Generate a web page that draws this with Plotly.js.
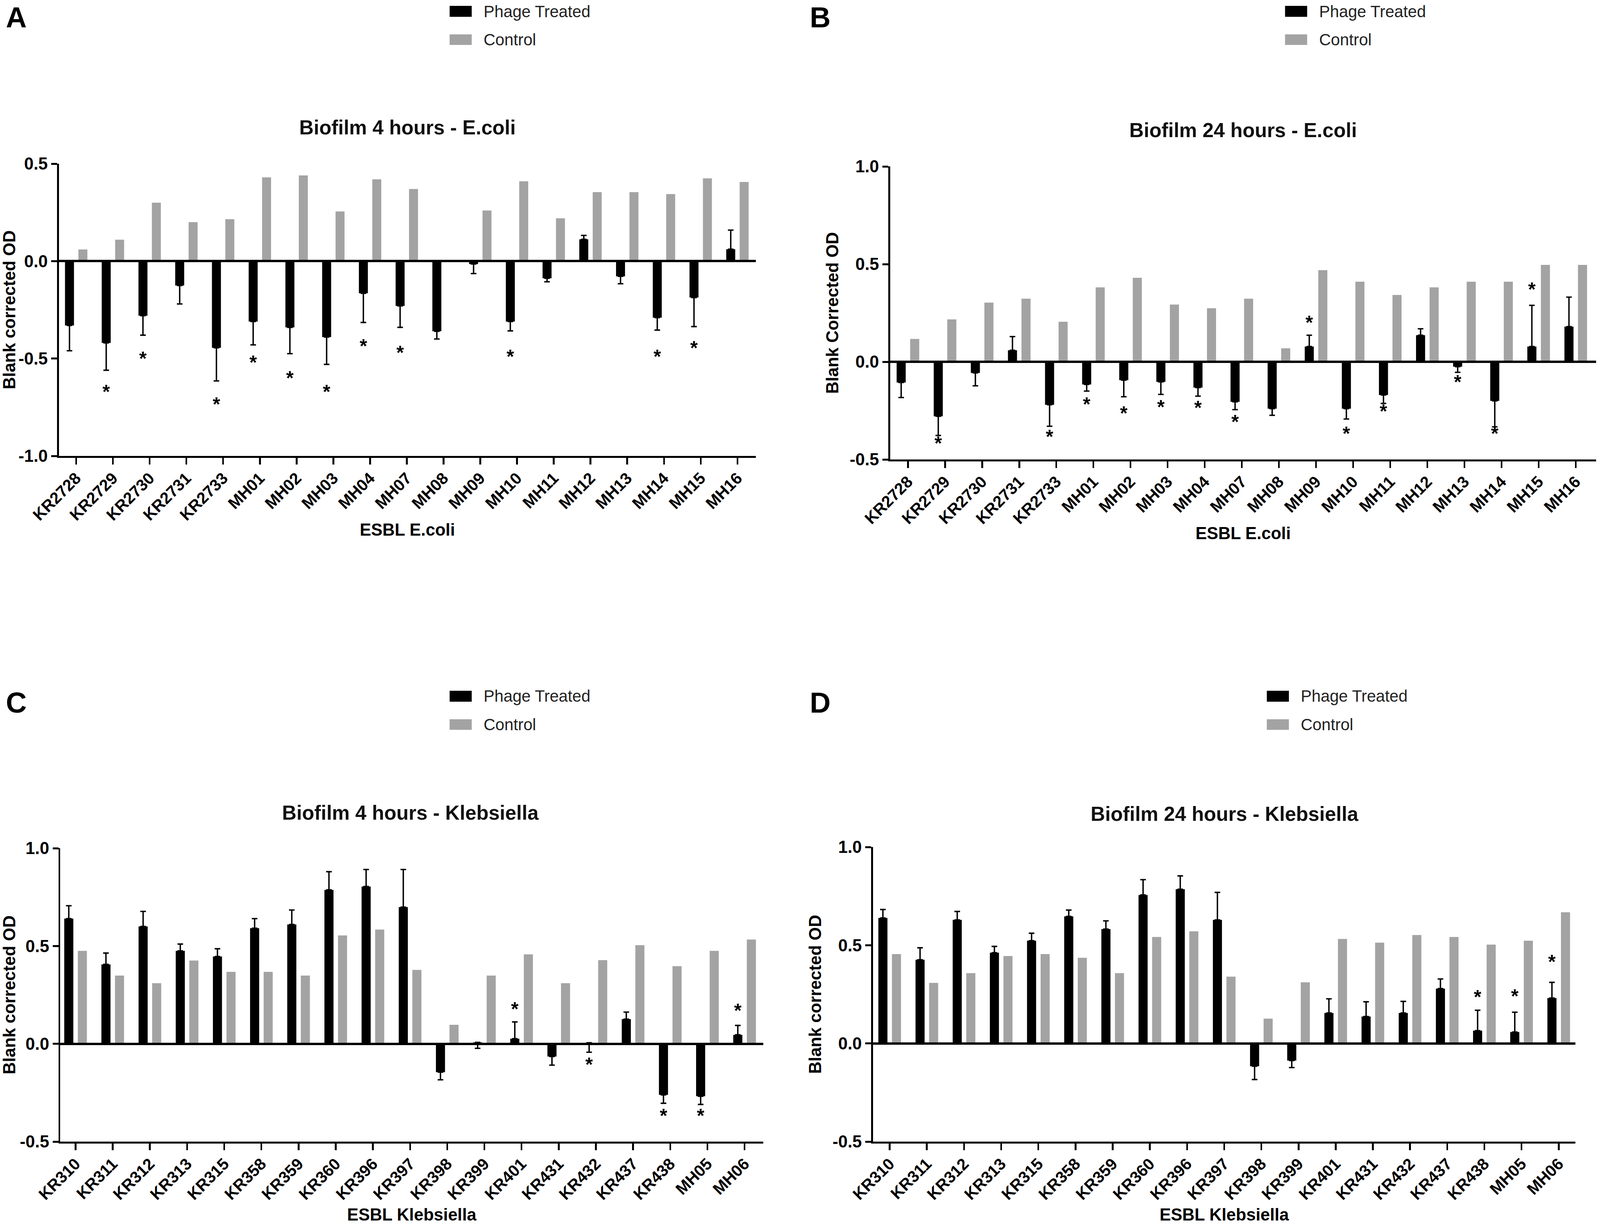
<!DOCTYPE html>
<html>
<head>
<meta charset="utf-8">
<script src="https://cdn.plot.ly/plotly-3.0.1.min.js"></script>
<style>
html,body{margin:0;padding:0;background:#fff;overflow:hidden;}
#chart{position:absolute;left:0;top:0;}
</style>
</head>
<body>
<div id="chart"></div>
<script>
// ---------------- DATA ----------------
const seriesNames = ['Phage Treated', 'Control'];

const ecoliStrains = ['KR2728','KR2729','KR2730','KR2731','KR2733','MH01','MH02','MH03','MH04','MH07','MH08','MH09','MH10','MH11','MH12','MH13','MH14','MH15','MH16'];
const klebStrains = ['KR310','KR311','KR312','KR313','KR315','KR358','KR359','KR360','KR396','KR397','KR398','KR399','KR401','KR431','KR432','KR437','KR438','MH05','MH06'];

const yTickVals = [-1, -0.5, 0, 0.5, 1];
const yTickText = ['-1.0', '-0.5', '0.0', '0.5', '1.0'];

// Panel A: Biofilm 4 hours - E.coli
const ecoli4hPhage   = [-0.33,-0.42,-0.28,-0.125,-0.445,-0.31,-0.34,-0.39,-0.165,-0.23,-0.36,-0.015,-0.31,-0.088,0.112,-0.078,-0.29,-0.187,0.061];
// signed error: positive = bar upward, negative = bar downward
const ecoli4hPhageErr = [-0.13,-0.14,-0.10,-0.095,-0.17,-0.12,-0.135,-0.14,-0.15,-0.11,-0.04,-0.049,-0.048,-0.018,0.02,-0.038,-0.064,-0.149,0.098];
const ecoli4hControl = [0.06,0.11,0.30,0.20,0.215,0.43,0.44,0.255,0.42,0.37,0,0.26,0.41,0.22,0.354,0.354,0.344,0.425,0.406];
const ecoli4hStars   = [null,-0.68,-0.51,null,-0.745,-0.53,-0.61,-0.68,-0.445,-0.48,null,null,-0.50,null,null,null,-0.50,-0.456,null];

// Panel B: Biofilm 24 hours - E.coli
const ecoli24hPhage   = [-0.106,-0.279,-0.057,0.059,-0.22,-0.116,-0.094,-0.103,-0.132,-0.205,-0.24,0.078,-0.24,-0.17,0.136,-0.025,-0.2,0.078,0.18];
const ecoli24hPhageErr = [-0.077,-0.098,-0.066,0.07,-0.11,-0.034,-0.085,-0.064,-0.044,-0.04,-0.034,0.058,-0.053,-0.043,0.033,-0.029,-0.133,0.211,0.151];
const ecoli24hControl = [0.117,0.217,0.303,0.323,0.205,0.381,0.43,0.293,0.274,0.323,0.069,0.469,0.41,0.342,0.381,0.41,0.41,0.496,0.496];
const ecoli24hStars   = [null,-0.428,null,null,-0.394,-0.227,-0.274,-0.242,-0.245,-0.318,null,0.19,-0.377,-0.264,null,-0.113,-0.377,0.36,null];

// Panel C: Biofilm 4 hours - Klebsiella
const kleb4hPhage   = [0.64,0.406,0.60,0.475,0.446,0.591,0.61,0.787,0.804,0.699,-0.145,0.007,0.026,-0.065,0.005,0.126,-0.261,-0.268,0.046];
const kleb4hPhageErr = [0.066,0.058,0.077,0.035,0.04,0.049,0.074,0.093,0.087,0.192,-0.039,-0.03,0.086,-0.044,-0.048,0.036,-0.043,-0.042,0.048];
const kleb4hControl = [0.475,0.349,0.31,0.426,0.368,0.368,0.349,0.554,0.584,0.378,0.097,0.349,0.457,0.31,0.428,0.504,0.397,0.475,0.533];
const kleb4hStars   = [null,null,null,null,null,null,null,null,null,null,null,null,0.167,null,-0.116,null,-0.377,-0.377,0.16];

// Panel D: Biofilm 24 hours - Klebsiella
const kleb24hPhage   = [0.639,0.426,0.629,0.462,0.523,0.647,0.582,0.756,0.785,0.629,-0.116,-0.087,0.155,0.137,0.155,0.279,0.065,0.058,0.231];
const kleb24hPhageErr = [0.043,0.061,0.043,0.032,0.038,0.032,0.042,0.078,0.068,0.14,-0.068,-0.036,0.072,0.075,0.059,0.049,0.104,0.101,0.08];
const kleb24hControl = [0.455,0.308,0.358,0.445,0.455,0.436,0.358,0.542,0.571,0.34,0.126,0.311,0.532,0.513,0.552,0.542,0.503,0.523,0.668];
const kleb24hStars   = [null,null,null,null,null,null,null,null,null,null,null,null,null,null,null,null,0.227,0.231,0.405];

// ---------------- LAYOUT HELPERS ----------------
const W = 4562, H = 3138;                       // reference pixel frame
const VW = window.innerWidth || W, VH = window.innerHeight || H;
const SX = VW / W, SY = VH / H;                 // page px per reference px
const SF = Math.sqrt(SX * SY);                  // for fonts / line widths
const zx = v => v * SX, zy = v => v * SY, zf = v => v * SF;
const FONT = 'Liberation Sans, Arial, Helvetica, sans-serif';
const px = x => x / W;
const py = y => 1 - y / H;
const PHAGE_COLOR = '#000000';
const CONTROL_COLOR = '#a3a3a3';

const panels = [
  { s: '',  letter: 'A', title: 'Biofilm 4 hours - E.coli', xTitle: 'ESBL E.coli', yTitle: 'Blank corrected OD',
    cats: ecoliStrains, phage: ecoli4hPhage, err: ecoli4hPhageErr, control: ecoli4hControl, stars: ecoli4hStars,
    yRange: [-1, 0.5], xRange: [-0.47, 18.5], xPx: [168, 2155], yPx: [419, 1167], xTitleGap: 2,
    letterXY: [15, 45], titleXY: [1162, 327], legX: [1282, 1345, 1377], legY: [15, 43, 88, 115] },
  { s: '2', letter: 'B', title: 'Biofilm 24 hours - E.coli', xTitle: 'ESBL E.coli', yTitle: 'Blank Corrected OD',
    cats: ecoliStrains, phage: ecoli24hPhage, err: ecoli24hPhageErr, control: ecoli24hControl, stars: ecoli24hStars,
    yRange: [-0.5, 1.0], xRange: [-0.48, 18.55], xPx: [2538, 4551], yPx: [426, 1176], xTitleGap: 2,
    letterXY: [2307, 45], titleXY: [3545, 334], legX: [3664, 3727, 3759], legY: [15, 43, 88, 115] },
  { s: '3', letter: 'C', title: 'Biofilm 4 hours - Klebsiella', xTitle: 'ESBL Klebsiella', yTitle: 'Blank corrected OD',
    cats: klebStrains, phage: kleb4hPhage, err: kleb4hPhageErr, control: kleb4hControl, stars: kleb4hStars,
    yRange: [-0.5, 1.0], xRange: [-0.41, 18.5], xPx: [172, 2176], yPx: [2171, 2922], xTitleGap: 16,
    letterXY: [15, 1798], titleXY: [1170, 2080], legX: [1282, 1345, 1377], legY: [1768, 1796, 1841, 1868] },
  { s: '4', letter: 'D', title: 'Biofilm 24 hours - Klebsiella', xTitle: 'ESBL Klebsiella', yTitle: 'Blank corrected OD',
    cats: klebStrains, phage: kleb24hPhage, err: kleb24hPhageErr, control: kleb24hControl, stars: kleb24hStars,
    yRange: [-0.5, 1.0], xRange: [-0.45, 18.45], xPx: [2489, 4492], yPx: [2168, 2922], xTitleGap: 16,
    letterXY: [2307, 1798], titleXY: [3492, 2083], legX: [3612, 3675, 3707], legY: [1768, 1796, 1841, 1868] }
];

const traces = [];
const layout = {
  width: VW, height: VH,
  margin: { l: 0, r: 0, t: 0, b: 0, pad: 0 },
  paper_bgcolor: '#fff', plot_bgcolor: 'rgba(0,0,0,0)',
  showlegend: false,
  barmode: 'group', bargap: 0.27, bargroupgap: 0.33,
  scattermode: 'group', scattergap: 0.27,
  font: { family: FONT, color: '#000', size: zf(40) },
  annotations: [], shapes: []
};

panels.forEach((p, i) => {
  const xa = 'x' + p.s, ya = 'y' + p.s;
  traces.push({
    type: 'bar', name: seriesNames[0], x: p.cats, y: p.phage, xaxis: xa, yaxis: ya,
    offsetgroup: 'phage', alignmentgroup: 'bars' + i,
    marker: { color: PHAGE_COLOR, line: { width: 0 } },
    error_y: { type: 'data', symmetric: false,
      array: p.err.map(e => e > 0 ? e : 0), arrayminus: p.err.map(e => e < 0 ? -e : 0),
      color: '#000', thickness: zx(4), width: zx(8) },
    hoverinfo: 'skip'
  });
  traces.push({
    type: 'bar', name: seriesNames[1], x: p.cats, y: p.control, xaxis: xa, yaxis: ya,
    offsetgroup: 'control', alignmentgroup: 'bars' + i,
    marker: { color: CONTROL_COLOR, line: { width: 0 } },
    hoverinfo: 'skip'
  });
  traces.push({
    type: 'scatter', mode: 'text', name: 'significance', x: p.cats, y: p.stars, xaxis: xa, yaxis: ya,
    orientation: 'v', offsetgroup: 'phage', alignmentgroup: 'stars' + i,
    text: p.stars.map(v => v === null ? '' : '*'), textposition: 'middle center',
    textfont: { family: FONT, size: zf(52), color: '#000', weight: 700 },
    cliponaxis: false, hoverinfo: 'skip'
  });
  traces.push({
    type: 'scatter', mode: 'markers', name: 'spacer', x: p.cats, y: p.cats.map(() => null), xaxis: xa, yaxis: ya,
    orientation: 'v', offsetgroup: 'control', alignmentgroup: 'stars' + i,
    marker: { opacity: 0 }, hoverinfo: 'skip'
  });

  layout['xaxis' + p.s] = {
    domain: [px(p.xPx[0]), px(p.xPx[1])], anchor: ya,
    type: 'category', categoryorder: 'array', categoryarray: p.cats, range: p.xRange,
    showline: true, linecolor: '#000', linewidth: zy(5),
    ticks: 'outside', ticklen: zy(17), tickwidth: zx(5), tickcolor: '#000',
    tickangle: -45, tickfont: { family: FONT, size: zf(44), color: '#000', weight: 700 }, ticklabelstandoff: zy(-6),
    showgrid: false, zeroline: false, fixedrange: true,
    title: { text: p.xTitle, font: { family: FONT, size: zf(46), color: '#000', weight: 700 }, standoff: zy(p.xTitleGap) }
  };
  layout['yaxis' + p.s] = {
    domain: [py(p.yPx[1]), py(p.yPx[0])], anchor: xa,
    range: p.yRange, tickvals: yTickVals, ticktext: yTickText,
    showline: true, linecolor: '#000', linewidth: zx(5),
    ticks: 'outside', ticklen: zx(17), tickwidth: zy(5), tickcolor: '#000',
    tickfont: { family: FONT, size: zf(46), color: '#000', weight: 700 },
    showgrid: false, zeroline: true, zerolinecolor: '#000', zerolinewidth: zy(6), zerolinelayer: 'above traces',
    fixedrange: true,
    title: { text: p.yTitle, font: { family: FONT, size: zf(46), color: '#000', weight: 700 }, standoff: zx(18) }
  };

  // panel letter
  layout.annotations.push({ xref: 'paper', yref: 'paper', x: px(p.letterXY[0]), y: py(p.letterXY[1]),
    xanchor: 'left', yanchor: 'middle', showarrow: false, text: p.letter,
    font: { family: FONT, size: zf(78), color: '#000', weight: 700 } });
  // panel title
  layout.annotations.push({ xref: 'paper', yref: 'paper', x: px(p.titleXY[0]), y: py(p.titleXY[1]),
    xanchor: 'center', yanchor: 'middle', showarrow: false, text: p.title,
    font: { family: FONT, size: zf(54), color: '#111', weight: 700 } });
  // legend swatches + labels
  const colors = [PHAGE_COLOR, CONTROL_COLOR];
  [0, 1].forEach(k => {
    const y0 = p.legY[2 * k], y1 = p.legY[2 * k + 1];
    layout.shapes.push({ type: 'rect', xref: 'paper', yref: 'paper',
      x0: px(p.legX[0]), x1: px(p.legX[1]), y0: py(y1), y1: py(y0),
      fillcolor: colors[k], line: { width: 0 } });
    layout.annotations.push({ xref: 'paper', yref: 'paper', x: px(p.legX[2]), y: py((y0 + y1) / 2),
      xanchor: 'left', yanchor: 'middle', showarrow: false, text: seriesNames[k],
      font: { family: FONT, size: zf(44), color: '#222' } });
  });
});

Plotly.newPlot('chart', traces, layout, { staticPlot: true, displayModeBar: false });
</script>
</body>
</html>
